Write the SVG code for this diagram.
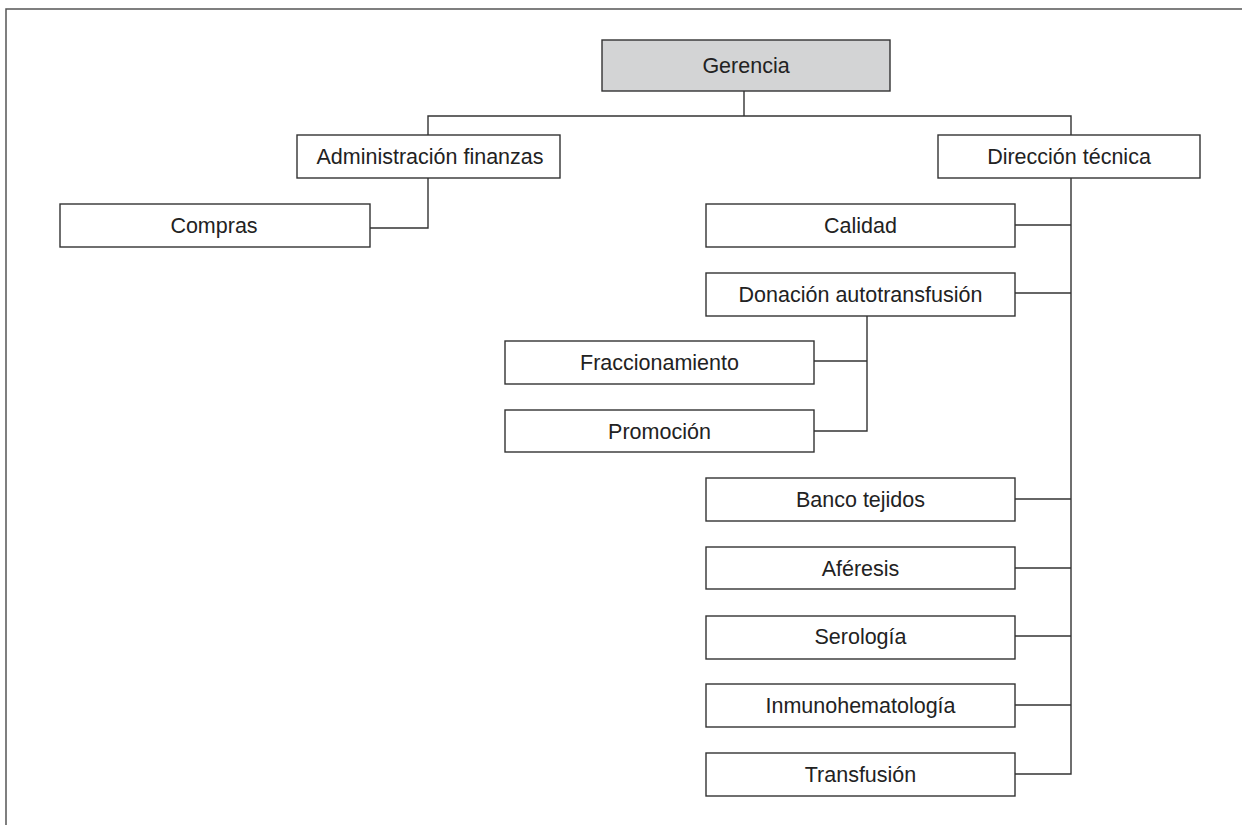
<svg xmlns="http://www.w3.org/2000/svg" width="1242" height="825" viewBox="0 0 1242 825">
<style>
.box{fill:#fff;stroke:#333;stroke-width:1.4}
.root{fill:#d3d4d5;stroke:#333;stroke-width:1.4}
.lbl{font-family:"Liberation Sans",Arial,sans-serif;font-size:21.5px;fill:#222;text-anchor:middle}
.con{fill:none;stroke:#333;stroke-width:1.4}
.frame{fill:none;stroke:#555;stroke-width:1.5}
</style>
<rect width="1242" height="825" fill="#fff"/>
<path class="frame" d="M6 825 V9 H1242"/>
<g id="connectors">
<path class="con" d="M744 91 V116"/>
<path class="con" d="M428 135 V116 H1071 V135"/>
<path class="con" d="M428 178 V228 H370"/>
<path class="con" d="M1071 178 V774 H1015"/>
<path class="con" d="M1015 225 H1071"/>
<path class="con" d="M1015 293 H1071"/>
<path class="con" d="M1015 499 H1071"/>
<path class="con" d="M1015 568 H1071"/>
<path class="con" d="M1015 636 H1071"/>
<path class="con" d="M1015 705 H1071"/>
<path class="con" d="M867 316 V431 H814"/>
<path class="con" d="M814 361 H867"/>
</g>
<g id="gerencia"><rect class="root" x="602" y="40" width="288" height="51"/><text class="lbl" x="746" y="73">Gerencia</text></g>
<g id="admin"><rect class="box" x="297" y="135" width="263" height="43"/><text class="lbl" x="430" y="164">Administración finanzas</text></g>
<g id="compras"><rect class="box" x="60" y="204" width="310" height="43"/><text class="lbl" x="214" y="233">Compras</text></g>
<g id="direccion"><rect class="box" x="938" y="135" width="262" height="43"/><text class="lbl" x="1069" y="164">Dirección técnica</text></g>
<g id="calidad"><rect class="box" x="706" y="204" width="309" height="43"/><text class="lbl" x="860.5" y="233">Calidad</text></g>
<g id="donacion"><rect class="box" x="706" y="273" width="309" height="43"/><text class="lbl" x="860.5" y="302">Donación autotransfusión</text></g>
<g id="fraccionamiento"><rect class="box" x="505" y="341" width="309" height="43"/><text class="lbl" x="659.5" y="370">Fraccionamiento</text></g>
<g id="promocion"><rect class="box" x="505" y="410" width="309" height="42"/><text class="lbl" x="659.5" y="438.5">Promoción</text></g>
<g id="banco"><rect class="box" x="706" y="478" width="309" height="43"/><text class="lbl" x="860.5" y="507">Banco tejidos</text></g>
<g id="aferesis"><rect class="box" x="706" y="547" width="309" height="42"/><text class="lbl" x="860.5" y="575.5">Aféresis</text></g>
<g id="serologia"><rect class="box" x="706" y="616" width="309" height="43"/><text class="lbl" x="860.5" y="644">Serología</text></g>
<g id="inmuno"><rect class="box" x="706" y="684" width="309" height="43"/><text class="lbl" x="860.5" y="713">Inmunohematología</text></g>
<g id="transfusion"><rect class="box" x="706" y="753" width="309" height="43"/><text class="lbl" x="860.5" y="782">Transfusión</text></g>
</svg>
